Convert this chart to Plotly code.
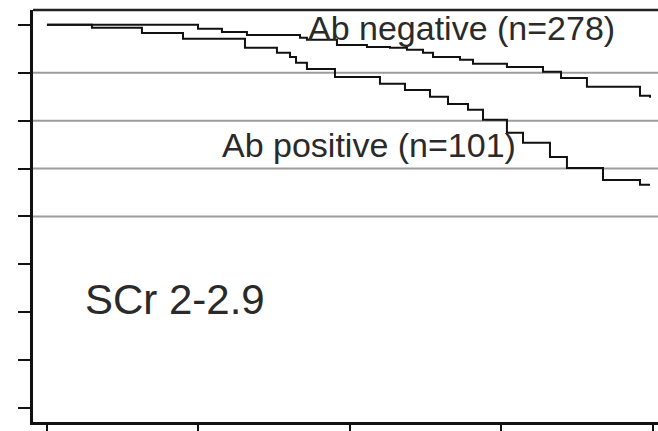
import plotly.graph_objects as go

# Kaplan-Meier style step data (time in years, survival proportion)
pos_time = [0.0, 0.297, 0.627, 0.898, 1.307, 1.518, 1.604, 1.644, 1.716, 1.901, 2.198, 2.363,
            2.528, 2.647, 2.779, 2.878, 3.036, 3.142, 3.320, 3.432, 3.670, 3.914, 3.980]
pos_surv = [1.0, 0.994, 0.983, 0.971, 0.952, 0.942, 0.933, 0.921, 0.908, 0.891, 0.877, 0.864,
            0.850, 0.835, 0.823, 0.802, 0.775, 0.754, 0.724, 0.701, 0.676, 0.666, 0.666]

neg_time = [0.0, 0.997, 1.155, 1.320, 1.670, 1.716, 1.914, 2.112, 2.264, 2.376, 2.482, 2.548,
            2.726, 2.812, 3.036, 3.274, 3.393, 3.564, 3.914, 3.980]
neg_surv = [1.0, 0.992, 0.985, 0.979, 0.973, 0.969, 0.958, 0.954, 0.952, 0.948, 0.942, 0.933,
            0.927, 0.919, 0.912, 0.902, 0.889, 0.871, 0.852, 0.848]

x_ticks = [0, 1, 2, 3, 4]
y_ticks = [0.2, 0.3, 0.4, 0.5, 0.6, 0.7, 0.8, 0.9, 1.0]
grid_levels = [0.6, 0.7, 0.8, 0.9]

label_neg = "Ab negative (n=278)"
label_pos = "Ab positive (n=101)"
panel_label = "SCr 2-2.9"

fig = go.Figure()

for gl in grid_levels:
    fig.add_shape(type="line", xref="paper", yref="y", x0=0, x1=1, y0=gl, y1=gl,
                  line=dict(color="#9c9c9c", width=2), layer="below")

fig.add_trace(go.Scatter(x=neg_time, y=neg_surv, mode="lines", line_shape="hv",
                         line=dict(color="#111111", width=2), showlegend=False))
fig.add_trace(go.Scatter(x=pos_time, y=pos_surv, mode="lines", line_shape="hv",
                         line=dict(color="#111111", width=2), showlegend=False))

# top border
fig.add_shape(type="line", xref="paper", yref="paper", x0=0, x1=1, y0=1, y1=1,
              line=dict(color="#222222", width=2.5))

font_family = "Liberation Sans, Arial, sans-serif"
fig.add_annotation(x=2.733, y=0.993, xref="x", yref="y", text=label_neg, showarrow=False,
                   xanchor="center", yanchor="middle",
                   font=dict(family=font_family, size=34, color="#2a2a2a"))
fig.add_annotation(x=2.125, y=0.749, xref="x", yref="y", text=label_pos, showarrow=False,
                   xanchor="center", yanchor="middle",
                   font=dict(family=font_family, size=34, color="#2a2a2a"))
fig.add_annotation(x=0.238, y=0.426, xref="x", yref="y", text=panel_label, showarrow=False,
                   xanchor="left", yanchor="middle",
                   font=dict(family=font_family, size=42, color="#2a2a2a"))

fig.update_xaxes(range=[-0.092, 4.033], tickvals=x_ticks, showticklabels=False,
                 ticks="outside", ticklen=10, tickwidth=2, tickcolor="#111111",
                 showline=True, linecolor="#111111", linewidth=2.5, showgrid=False,
                 zeroline=False)
fig.update_yaxes(range=[0.171, 1.031], tickvals=y_ticks, showticklabels=False,
                 ticks="outside", ticklen=12, tickwidth=2, tickcolor="#111111",
                 showline=True, linecolor="#111111", linewidth=2.5, showgrid=False,
                 zeroline=False)

fig.update_layout(width=658, height=431, margin=dict(l=33, r=0, t=10, b=9),
                  plot_bgcolor="white", paper_bgcolor="white")

fig.write_html("out.html")
